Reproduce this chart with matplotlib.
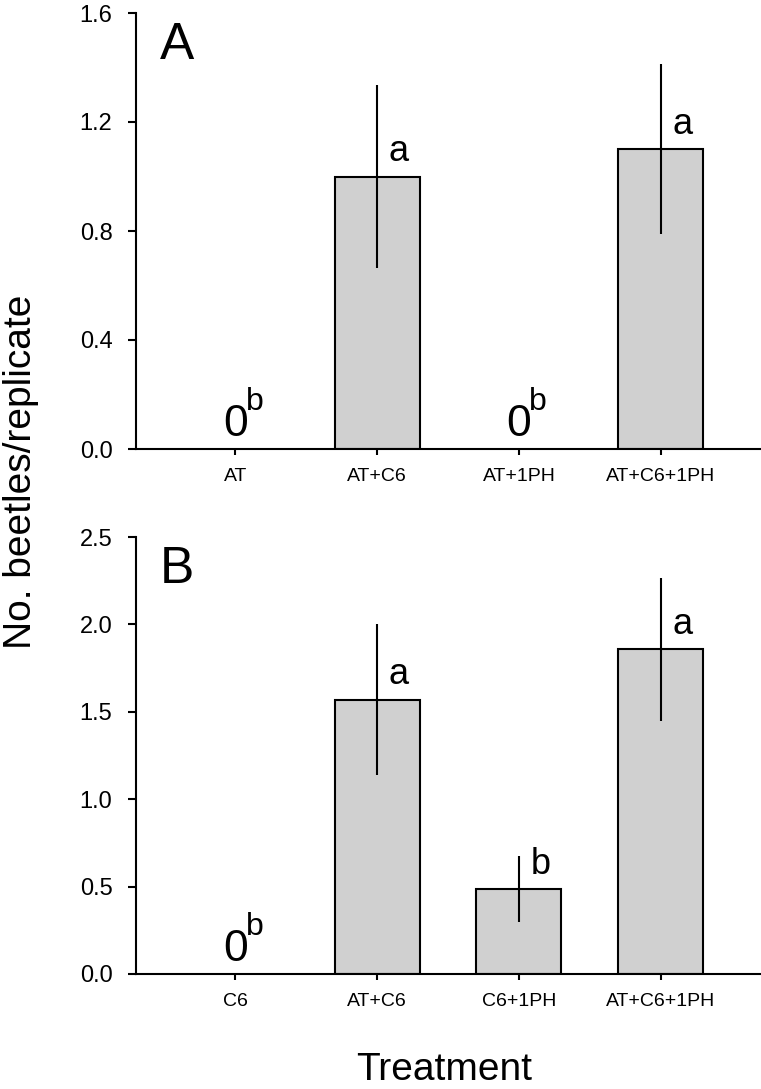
import numpy as np
import matplotlib
matplotlib.use("Agg")
import matplotlib.pyplot as plt

plt.rcParams["font.family"] = ["Liberation Sans", "DejaVu Sans"]

# panel A
treatments_a = ["AT", "AT+C6", "AT+1PH", "AT+C6+1PH"]
means_a = [0.0, 1.0, 0.0, 1.10]
se_a = [0.0, 0.335, 0.0, 0.312]
letters_a = ["b", "a", "b", "a"]

# panel B
treatments_b = ["C6", "AT+C6", "C6+1PH", "AT+C6+1PH"]
means_b = [0.0, 1.57, 0.487, 1.857]
se_b = [0.0, 0.432, 0.188, 0.41]
letters_b = ["b", "a", "b", "a"]

W, H = 761, 1089
fig = plt.figure(figsize=(W / 100, H / 100), dpi=100)


def px_axes(left, right, top, bottom):
    return fig.add_axes([left / W, 1 - bottom / H, (right - left) / W, (bottom - top) / H])


def draw_panel(ax, names, means, se, letters, ymax, step, tag):
    x = np.arange(len(names))
    for xi, m, s, let in zip(x, means, se, letters):
        if m > 0:
            ax.bar(xi, m, width=0.6, color="#d0d0d0", edgecolor="black", linewidth=1.5, zorder=2)
            ax.errorbar(xi, m, yerr=s, fmt="none", ecolor="black", elinewidth=1.5, capsize=0, zorder=3)
            ax.annotate(let, (xi + 0.08, m), xytext=(0, 11), textcoords="offset points",
                        ha="left", va="baseline", fontsize=26)
        else:
            ax.annotate("0", (xi, 0), xytext=(0, 9.5), textcoords="offset points",
                        ha="center", va="baseline", fontsize=32)
            ax.annotate(let, (xi + 0.074, 0), xytext=(0, 28), textcoords="offset points",
                        ha="left", va="baseline", fontsize=23)

    ticks = np.arange(0, ymax + step / 2, step)
    ax.set_xlim(-0.7, 3.7)
    ax.set_ylim(0, ymax)
    ax.set_yticks(ticks)
    ax.set_yticklabels([f"{v:.1f}" for v in ticks])
    ax.set_xticks(x)
    ax.set_xticklabels(names)
    ax.spines["top"].set_visible(False)
    ax.spines["right"].set_visible(False)
    ax.spines["left"].set_linewidth(1.5)
    ax.spines["bottom"].set_linewidth(1.5)
    ax.tick_params(axis="y", direction="out", length=6, width=1.5, labelsize=17, pad=11)
    ax.tick_params(axis="x", direction="out", length=4.5, width=1.5, labelsize=14, pad=9)
    # panel letter, 46 px below the top of the axes
    ax.text(0.038, 1 - 46 / 436, tag, transform=ax.transAxes, fontsize=37,
            va="baseline", ha="left")


ax_a = px_axes(136, 760, 13, 449)
draw_panel(ax_a, treatments_a, means_a, se_a, letters_a, 1.6, 0.4, "A")

ax_b = px_axes(136, 760, 537, 974)
draw_panel(ax_b, treatments_b, means_b, se_b, letters_b, 2.5, 0.5, "B")

fig.text(21 / W, 1 - 472 / H, "No. beetles/replicate", rotation=90, fontsize=28,
         ha="center", va="center")
fig.text(444 / W, 1 - 1080 / H, "Treatment", fontsize=28, ha="center", va="baseline")

fig.savefig("out.png", dpi=100)
